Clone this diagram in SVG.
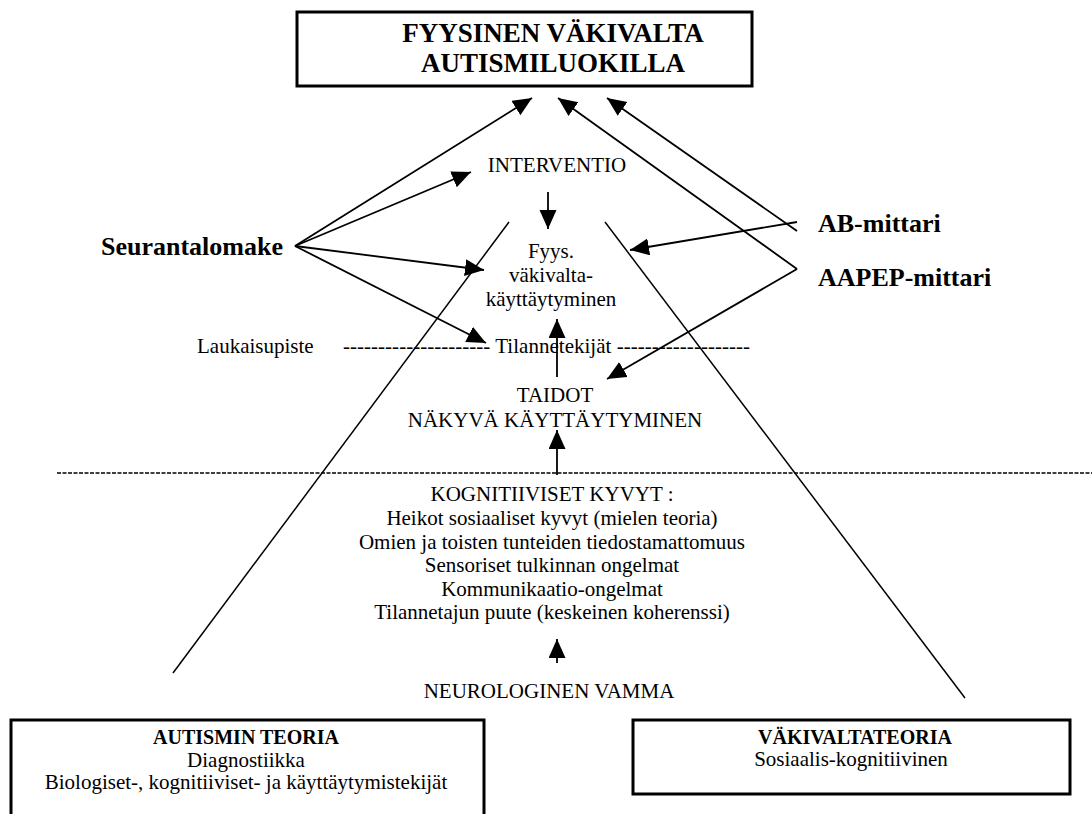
<svg xmlns="http://www.w3.org/2000/svg" width="1092" height="814" viewBox="0 0 1092 814">
<style>
text{font-family:"Liberation Serif","Times New Roman",serif;fill:#000}
.b{font-weight:bold}
.t27{font-size:27px}
.t26{font-size:26px}
.t21{font-size:21px}
.t20{font-size:20px}
.c{text-anchor:middle}
.box{fill:#fff;stroke:#000;stroke-width:3}
.con{stroke:#000;stroke-width:1.8;fill:none}
.thin{stroke:#000;stroke-width:1.5;fill:none}
</style>
<defs>
<marker id="ah" markerUnits="userSpaceOnUse" markerWidth="20" markerHeight="18" refX="19" refY="8.5" orient="auto">
<path d="M0,0 L19,8.5 L0,17 z" fill="#000"/>
</marker>
</defs>
<rect width="1092" height="814" fill="#fff"/>

<g id="node-title">
<rect class="box" x="297" y="12" width="455" height="74"/>
<text class="b t27 c" x="553" y="42">FYYSINEN VÄKIVALTA</text>
<text class="b t27 c" x="553" y="72">AUTISMILUOKILLA</text>
</g>

<g id="node-interventio"><text class="t21 c" x="557" y="172">INTERVENTIO</text></g>
<g id="node-fyys">
<text class="t21 c" x="551" y="258">Fyys.</text>
<text class="t21 c" x="551" y="282">väkivalta-</text>
<text class="t21 c" x="551" y="306">käyttäytyminen</text>
</g>
<g id="node-seuranta"><text class="b t26" x="283" y="255" text-anchor="end">Seurantalomake</text></g>
<g id="node-ab"><text class="b t26" x="818" y="232">AB-mittari</text></g>
<g id="node-aapep"><text class="b t26" x="818" y="286">AAPEP-mittari</text></g>
<g id="node-laukaisu">
<text class="t21" x="197" y="353">Laukaisupiste</text>
<text class="t21" x="343" y="353" textLength="407" lengthAdjust="spacing">--------------------- Tilannetekijät -------------------</text>
</g>
<g id="node-taidot">
<text class="t21 c" x="555" y="402">TAIDOT</text>
<text class="t21 c" x="555" y="427">NÄKYVÄ KÄYTTÄYTYMINEN</text>
</g>
<g id="node-kogn">
<text class="t21 c" x="552" y="501">KOGNITIIVISET KYVYT :</text>
<text class="t21 c" x="552" y="525">Heikot sosiaaliset kyvyt (mielen teoria)</text>
<text class="t21 c" x="552" y="549">Omien ja toisten tunteiden tiedostamattomuus</text>
<text class="t21 c" x="552" y="572">Sensoriset tulkinnan ongelmat</text>
<text class="t21 c" x="552" y="596">Kommunikaatio-ongelmat</text>
<text class="t21 c" x="552" y="619">Tilannetajun puute (keskeinen koherenssi)</text>
</g>
<g id="node-neuro"><text class="t21 c" x="549" y="698">NEUROLOGINEN VAMMA</text></g>

<g id="node-autismi">
<rect class="box" x="11" y="720" width="473" height="110"/>
<text class="b t20 c" x="246" y="744">AUTISMIN TEORIA</text>
<text class="t21 c" x="246" y="767">Diagnostiikka</text>
<text class="t21 c" x="246" y="789">Biologiset-, kognitiiviset- ja käyttäytymistekijät</text>
</g>
<g id="node-vakivalta">
<rect class="box" x="633" y="720" width="437" height="74"/>
<text class="b t20 c" x="855" y="744">VÄKIVALTATEORIA</text>
<text class="t21 c" x="851" y="766">Sosiaalis-kognitiivinen</text>
</g>

<g id="connectors">
<line class="thin" x1="57" y1="473" x2="1092" y2="473" stroke-dasharray="4 1.5" stroke-width="1.2"/>
<line class="con" x1="295" y1="246" x2="532" y2="98" marker-end="url(#ah)"/>
<line class="con" x1="295" y1="246" x2="471" y2="172" marker-end="url(#ah)"/>
<line class="con" x1="295" y1="246" x2="484" y2="270" marker-end="url(#ah)"/>
<line class="con" x1="295" y1="246" x2="486" y2="343" marker-end="url(#ah)"/>
<line class="con" x1="797" y1="231" x2="607" y2="98" marker-end="url(#ah)"/>
<line class="con" x1="797" y1="222" x2="630" y2="250" marker-end="url(#ah)"/>
<line class="con" x1="797" y1="269" x2="558" y2="98" marker-end="url(#ah)"/>
<line class="con" x1="797" y1="269" x2="607" y2="379" marker-end="url(#ah)"/>
<line class="con" x1="548" y1="192" x2="548" y2="229" marker-end="url(#ah)"/>
<line class="con" x1="557" y1="377" x2="557" y2="319" marker-end="url(#ah)"/>
<line class="con" x1="557" y1="475" x2="557" y2="430" marker-end="url(#ah)"/>
<line class="con" x1="557" y1="663" x2="557" y2="639" marker-end="url(#ah)"/>
<line class="thin" x1="509" y1="222" x2="173" y2="673"/>
<line class="thin" x1="605" y1="222" x2="965" y2="698"/>
</g>
</svg>
